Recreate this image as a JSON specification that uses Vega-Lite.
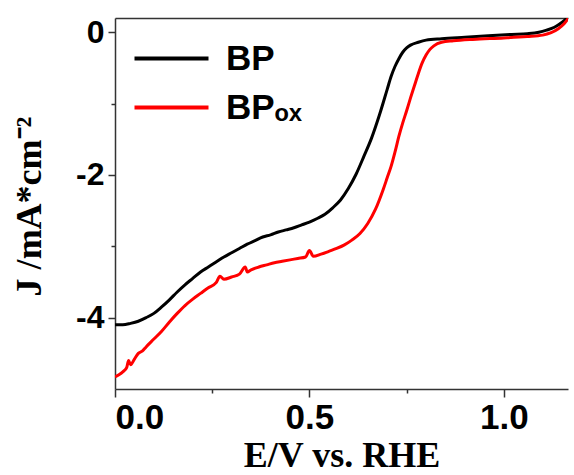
{
  "$schema": "https://vega.github.io/schema/vega-lite/v6.json",
  "width": 453,
  "height": 371,
  "autosize": "none",
  "padding": {"left": 115, "top": 18, "right": 6, "bottom": 86},
  "background": "white",
  "config": {
    "view": {"stroke": null},
    "axis": {
      "domainColor": "#333",
      "domainWidth": 1.5,
      "tickColor": "#333",
      "tickWidth": 1.5,
      "grid": false,
      "labelFont": "Liberation Sans",
      "labelFontWeight": "bold",
      "labelColor": "black",
      "titleFont": "Liberation Serif",
      "titleFontWeight": "bold",
      "titleColor": "black",
      "titleFontSize": 36
    }
  },
  "layer": [
    {
      "data": {
        "values": [
          {"E": 0.00, "J": -4.10, "series": "BP"},
          {"E": 0.02, "J": -4.10, "series": "BP"},
          {"E": 0.04, "J": -4.08, "series": "BP"},
          {"E": 0.06, "J": -4.05, "series": "BP"},
          {"E": 0.08, "J": -4.00, "series": "BP"},
          {"E": 0.10, "J": -3.94, "series": "BP"},
          {"E": 0.12, "J": -3.85, "series": "BP"},
          {"E": 0.14, "J": -3.75, "series": "BP"},
          {"E": 0.16, "J": -3.64, "series": "BP"},
          {"E": 0.18, "J": -3.54, "series": "BP"},
          {"E": 0.20, "J": -3.45, "series": "BP"},
          {"E": 0.22, "J": -3.36, "series": "BP"},
          {"E": 0.24, "J": -3.29, "series": "BP"},
          {"E": 0.26, "J": -3.22, "series": "BP"},
          {"E": 0.28, "J": -3.15, "series": "BP"},
          {"E": 0.30, "J": -3.09, "series": "BP"},
          {"E": 0.32, "J": -3.03, "series": "BP"},
          {"E": 0.34, "J": -2.97, "series": "BP"},
          {"E": 0.36, "J": -2.92, "series": "BP"},
          {"E": 0.38, "J": -2.87, "series": "BP"},
          {"E": 0.40, "J": -2.84, "series": "BP"},
          {"E": 0.42, "J": -2.80, "series": "BP"},
          {"E": 0.44, "J": -2.77, "series": "BP"},
          {"E": 0.46, "J": -2.74, "series": "BP"},
          {"E": 0.48, "J": -2.70, "series": "BP"},
          {"E": 0.50, "J": -2.66, "series": "BP"},
          {"E": 0.52, "J": -2.61, "series": "BP"},
          {"E": 0.54, "J": -2.55, "series": "BP"},
          {"E": 0.56, "J": -2.46, "series": "BP"},
          {"E": 0.58, "J": -2.35, "series": "BP"},
          {"E": 0.60, "J": -2.19, "series": "BP"},
          {"E": 0.62, "J": -1.99, "series": "BP"},
          {"E": 0.64, "J": -1.74, "series": "BP"},
          {"E": 0.66, "J": -1.48, "series": "BP"},
          {"E": 0.68, "J": -1.16, "series": "BP"},
          {"E": 0.70, "J": -0.80, "series": "BP"},
          {"E": 0.71, "J": -0.62, "series": "BP"},
          {"E": 0.72, "J": -0.48, "series": "BP"},
          {"E": 0.73, "J": -0.37, "series": "BP"},
          {"E": 0.74, "J": -0.28, "series": "BP"},
          {"E": 0.75, "J": -0.22, "series": "BP"},
          {"E": 0.76, "J": -0.18, "series": "BP"},
          {"E": 0.78, "J": -0.14, "series": "BP"},
          {"E": 0.80, "J": -0.11, "series": "BP"},
          {"E": 0.84, "J": -0.09, "series": "BP"},
          {"E": 0.90, "J": -0.07, "series": "BP"},
          {"E": 0.96, "J": -0.05, "series": "BP"},
          {"E": 1.02, "J": -0.03, "series": "BP"},
          {"E": 1.06, "J": -0.02, "series": "BP"},
          {"E": 1.09, "J": 0.00, "series": "BP"},
          {"E": 1.11, "J": 0.03, "series": "BP"},
          {"E": 1.13, "J": 0.07, "series": "BP"},
          {"E": 1.15, "J": 0.14, "series": "BP"},
          {"E": 1.165, "J": 0.21, "series": "BP"},
          {"E": 0.00, "J": -4.83, "series": "BPox"},
          {"E": 0.01, "J": -4.80, "series": "BPox"},
          {"E": 0.02, "J": -4.76, "series": "BPox"},
          {"E": 0.03, "J": -4.70, "series": "BPox"},
          {"E": 0.035, "J": -4.60, "series": "BPox"},
          {"E": 0.04, "J": -4.66, "series": "BPox"},
          {"E": 0.05, "J": -4.58, "series": "BPox"},
          {"E": 0.06, "J": -4.50, "series": "BPox"},
          {"E": 0.07, "J": -4.47, "series": "BPox"},
          {"E": 0.08, "J": -4.41, "series": "BPox"},
          {"E": 0.10, "J": -4.30, "series": "BPox"},
          {"E": 0.12, "J": -4.19, "series": "BPox"},
          {"E": 0.14, "J": -4.06, "series": "BPox"},
          {"E": 0.16, "J": -3.94, "series": "BPox"},
          {"E": 0.18, "J": -3.83, "series": "BPox"},
          {"E": 0.20, "J": -3.74, "series": "BPox"},
          {"E": 0.22, "J": -3.66, "series": "BPox"},
          {"E": 0.24, "J": -3.58, "series": "BPox"},
          {"E": 0.26, "J": -3.51, "series": "BPox"},
          {"E": 0.27, "J": -3.42, "series": "BPox"},
          {"E": 0.28, "J": -3.46, "series": "BPox"},
          {"E": 0.30, "J": -3.43, "series": "BPox"},
          {"E": 0.32, "J": -3.39, "series": "BPox"},
          {"E": 0.335, "J": -3.29, "series": "BPox"},
          {"E": 0.34, "J": -3.36, "series": "BPox"},
          {"E": 0.35, "J": -3.33, "series": "BPox"},
          {"E": 0.37, "J": -3.29, "series": "BPox"},
          {"E": 0.39, "J": -3.26, "series": "BPox"},
          {"E": 0.41, "J": -3.23, "series": "BPox"},
          {"E": 0.43, "J": -3.21, "series": "BPox"},
          {"E": 0.45, "J": -3.19, "series": "BPox"},
          {"E": 0.47, "J": -3.17, "series": "BPox"},
          {"E": 0.49, "J": -3.15, "series": "BPox"},
          {"E": 0.50, "J": -3.06, "series": "BPox"},
          {"E": 0.51, "J": -3.14, "series": "BPox"},
          {"E": 0.53, "J": -3.11, "series": "BPox"},
          {"E": 0.55, "J": -3.07, "series": "BPox"},
          {"E": 0.57, "J": -3.03, "series": "BPox"},
          {"E": 0.59, "J": -2.98, "series": "BPox"},
          {"E": 0.61, "J": -2.91, "series": "BPox"},
          {"E": 0.63, "J": -2.82, "series": "BPox"},
          {"E": 0.65, "J": -2.68, "series": "BPox"},
          {"E": 0.67, "J": -2.48, "series": "BPox"},
          {"E": 0.69, "J": -2.20, "series": "BPox"},
          {"E": 0.70, "J": -2.04, "series": "BPox"},
          {"E": 0.71, "J": -1.88, "series": "BPox"},
          {"E": 0.72, "J": -1.68, "series": "BPox"},
          {"E": 0.73, "J": -1.46, "series": "BPox"},
          {"E": 0.74, "J": -1.27, "series": "BPox"},
          {"E": 0.75, "J": -1.10, "series": "BPox"},
          {"E": 0.76, "J": -0.92, "series": "BPox"},
          {"E": 0.77, "J": -0.75, "series": "BPox"},
          {"E": 0.78, "J": -0.58, "series": "BPox"},
          {"E": 0.79, "J": -0.43, "series": "BPox"},
          {"E": 0.80, "J": -0.32, "series": "BPox"},
          {"E": 0.81, "J": -0.24, "series": "BPox"},
          {"E": 0.82, "J": -0.19, "series": "BPox"},
          {"E": 0.84, "J": -0.14, "series": "BPox"},
          {"E": 0.87, "J": -0.12, "series": "BPox"},
          {"E": 0.92, "J": -0.10, "series": "BPox"},
          {"E": 1.00, "J": -0.08, "series": "BPox"},
          {"E": 1.06, "J": -0.06, "series": "BPox"},
          {"E": 1.10, "J": -0.04, "series": "BPox"},
          {"E": 1.12, "J": -0.01, "series": "BPox"},
          {"E": 1.14, "J": 0.05, "series": "BPox"},
          {"E": 1.155, "J": 0.12, "series": "BPox"},
          {"E": 1.168, "J": 0.21, "series": "BPox"}
        ]
      },
      "mark": {"type": "line", "strokeWidth": 3, "clip": true, "interpolate": "monotone"},
      "encoding": {
        "x": {
          "field": "E", "type": "quantitative",
          "scale": {"domain": [0, 1.165], "nice": false, "zero": false},
          "axis": {
            "values": [0, 0.25, 0.5, 0.75, 1.0],
            "labelExpr": "datum.value % 0.5 === 0 ? format(datum.value, '.1f') : ''",
            "labelFontSize": 35,
            "labelPadding": 3,
            "tickSize": {"condition": {"test": "datum.value % 0.5 === 0", "value": 8}, "value": 4},
            "title": "E/V vs. RHE",
            "titlePadding": 3
          }
        },
        "y": {
          "field": "J", "type": "quantitative",
          "scale": {"domain": [-5, 0.2], "nice": false, "zero": false},
          "axis": {
            "values": [-4, -3, -2, -1, 0],
            "labelExpr": "datum.value % 2 === 0 ? '' + datum.value : ''",
            "labelFontSize": 32,
            "labelPadding": 4,
            "tickSize": {"condition": {"test": "datum.value % 2 === 0", "value": 7}, "value": 4},
            "title": "J /mA*cm⁻²",
            "titleAngle": 270,
            "titleAlign": "center",
            "titleBaseline": "alphabetic",
            "titleX": -75,
            "titleY": 188
          }
        },
        "color": {
          "field": "series", "type": "nominal",
          "scale": {"domain": ["BP", "BPox"], "range": ["#000000", "#ff0000"]},
          "legend": {
            "orient": "none",
            "legendX": 36,
            "legendY": 20,
            "title": null,
            "symbolType": "M-2,0H2",
            "symbolSize": 1369,
            "symbolStrokeWidth": 4,
            "labelFont": "Liberation Sans",
            "labelFontWeight": "bold",
            "labelFontSize": 35,
            "labelColor": "black",
            "labelOffset": 34,
            "rowPadding": 10,
            "padding": 0,
            "labelExpr": "datum.label === 'BPox' ? 'BPₒₓ' : datum.label"
          }
        }
      }
    },
    {
      "data": {"values": [{}]},
      "mark": {"type": "rule", "opacity": 0},
      "encoding": {
        "x": {
          "datum": 0, "type": "quantitative",
          "axis": {"orient": "top", "labels": false, "ticks": false, "title": null, "domainColor": "#333", "domainWidth": 1.5}
        }
      }
    }
  ],
  "resolve": {"axis": {"x": "independent"}}
}
